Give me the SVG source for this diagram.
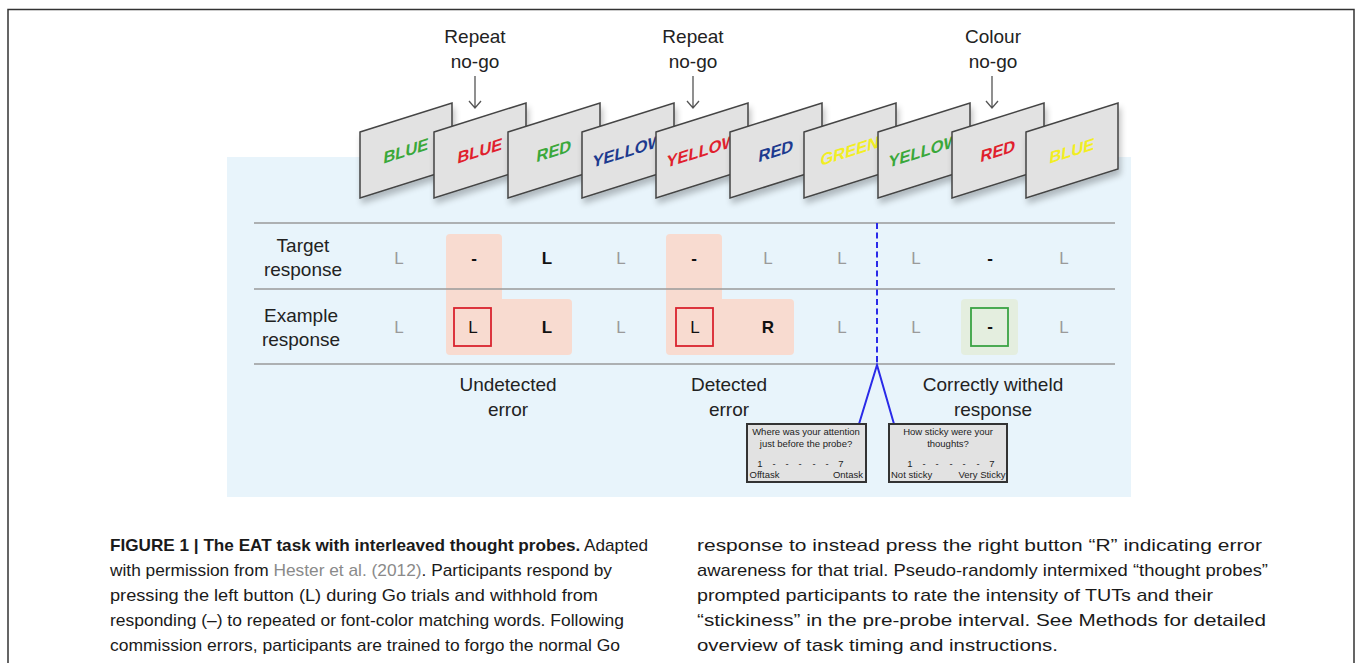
<svg xmlns="http://www.w3.org/2000/svg" width="1357" height="663" viewBox="0 0 1357 663">
<style>
  .frame{fill:none;stroke:#333;stroke-width:1.5}
  .panel{fill:#e8f4fb}
  .card{fill:#e2e2e2;stroke:#444;stroke-width:1.5;stroke-linejoin:miter}
  .word{font-family:"Liberation Sans",Arial,sans-serif;font-weight:bold;font-size:16.5px;text-anchor:middle}
  .lab{font-family:"Liberation Sans",Arial,sans-serif;font-size:19px;fill:#222;text-anchor:middle}
  .div{stroke:#9a9a9a;stroke-width:1.5}
  .cell{font-family:"Liberation Sans",Arial,sans-serif;font-size:17px;text-anchor:middle;fill:#9a9a9a}
  .blk{fill:#111}
  .bold{font-weight:bold}
  .pink{fill:#f8dbd0}
  .redbox{fill:none;stroke:#d9232e;stroke-width:1.8}
  .grnbox{fill:none;stroke:#3aa244;stroke-width:1.8}
  .arrow{stroke:#555;stroke-width:1.3;fill:none}
  .probe{fill:#e2e2e2;stroke:#333;stroke-width:2}
  .pt{font-family:"Liberation Sans",Arial,sans-serif;font-size:9.5px;fill:#222}
  .cap{font-family:"Liberation Sans",Arial,sans-serif;font-size:17px;fill:#1a1a1a}
  .blue{stroke:#2a2ae8;stroke-width:2;fill:none}
</style>
<defs>
  <filter id="shadow" x="-20%" y="-20%" width="150%" height="160%">
    <feGaussianBlur in="SourceAlpha" stdDeviation="3"/>
    <feOffset dx="2" dy="5" result="b"/>
    <feComponentTransfer><feFuncA type="linear" slope="0.25"/></feComponentTransfer>
    <feMerge><feMergeNode/><feMergeNode in="SourceGraphic"/></feMerge>
  </filter>
</defs>
<rect width="1357" height="663" fill="#fff"/>
<path class="frame" d="M8,663 V9.5 H1354 V663"/>
<rect class="panel" x="227" y="157" width="904" height="340"/>

<g id="labels-top">
  <text class="lab" x="475" y="43">Repeat</text>
  <text class="lab" x="475" y="68">no-go</text>
  <text class="lab" x="693" y="43">Repeat</text>
  <text class="lab" x="693" y="68">no-go</text>
  <text class="lab" x="993" y="43">Colour</text>
  <text class="lab" x="993" y="68">no-go</text>
</g>
<g id="arrows">
  <path class="arrow" d="M475,76 V108 M469,101 L475,108 L481,101"/>
  <path class="arrow" d="M693,76 V108 M687,101 L693,108 L699,101"/>
  <path class="arrow" d="M992,76 V108 M986,101 L992,108 L998,101"/>
</g>

<g id="cards">
  <g id="card1" transform="translate(360,0)"><polygon class="card" filter="url(#shadow)" points="0,132 92,103 92,169 0,198"/><text class="word" fill="#3aa83a" transform="translate(46,150.5) skewY(-17.5) skewX(-6)" y="6">BLUE</text></g>
  <g id="card2" transform="translate(434,0)"><polygon class="card" filter="url(#shadow)" points="0,132 92,103 92,169 0,198"/><text class="word" fill="#e01f2d" transform="translate(46,150.5) skewY(-17.5) skewX(-6)" y="6">BLUE</text></g>
  <g id="card3" transform="translate(508,0)"><polygon class="card" filter="url(#shadow)" points="0,132 92,103 92,169 0,198"/><text class="word" fill="#3aa83a" transform="translate(46,150.5) skewY(-17.5) skewX(-6)" y="6">RED</text></g>
  <g id="card4" transform="translate(582,0)"><polygon class="card" filter="url(#shadow)" points="0,132 92,103 92,169 0,198"/><text class="word" fill="#1d3a8f" transform="translate(46,150.5) skewY(-17.5) skewX(-6)" y="6">YELLOW</text></g>
  <g id="card5" transform="translate(656,0)"><polygon class="card" filter="url(#shadow)" points="0,132 92,103 92,169 0,198"/><text class="word" fill="#e01f2d" transform="translate(46,150.5) skewY(-17.5) skewX(-6)" y="6">YELLOW</text></g>
  <g id="card6" transform="translate(730,0)"><polygon class="card" filter="url(#shadow)" points="0,132 92,103 92,169 0,198"/><text class="word" fill="#1d3a8f" transform="translate(46,150.5) skewY(-17.5) skewX(-6)" y="6">RED</text></g>
  <g id="card7" transform="translate(804,0)"><polygon class="card" filter="url(#shadow)" points="0,132 92,103 92,169 0,198"/><text class="word" fill="#f2ee22" transform="translate(46,150.5) skewY(-17.5) skewX(-6)" y="6">GREEN</text></g>
  <g id="card8" transform="translate(878,0)"><polygon class="card" filter="url(#shadow)" points="0,132 92,103 92,169 0,198"/><text class="word" fill="#3aa83a" transform="translate(46,150.5) skewY(-17.5) skewX(-6)" y="6">YELLOW</text></g>
  <g id="card9" transform="translate(952,0)"><polygon class="card" filter="url(#shadow)" points="0,132 92,103 92,169 0,198"/><text class="word" fill="#e01f2d" transform="translate(46,150.5) skewY(-17.5) skewX(-6)" y="6">RED</text></g>
  <g id="card10" transform="translate(1026,0)"><polygon class="card" filter="url(#shadow)" points="0,132 92,103 92,169 0,198"/><text class="word" fill="#f2ee22" transform="translate(46,150.5) skewY(-17.5) skewX(-6)" y="6">BLUE</text></g>
</g>

<g id="highlights">
  <path class="pink" d="M450,234 H498 Q502,234 502,238 V299 H568 Q572,299 572,303 V351 Q572,355 568,355 H450 Q446,355 446,351 V238 Q446,234 450,234 Z"/>
  <path class="pink" d="M670,234 H718 Q722,234 722,238 V299 H790 Q794,299 794,303 V351 Q794,355 790,355 H670 Q666,355 666,351 V238 Q666,234 670,234 Z"/>
  <rect x="961" y="299" width="57" height="56" rx="4" fill="#e4eedf"/>
</g>

<g id="grid">
  <line class="div" x1="254" y1="223" x2="1115" y2="223"/>
  <line class="div" x1="254" y1="289" x2="1115" y2="289"/>
  <line class="div" x1="254" y1="364" x2="1115" y2="364"/>
</g>

<g id="row-labels">
  <text class="lab" x="303" y="252">Target</text>
  <text class="lab" x="303" y="276">response</text>
  <text class="lab" x="301" y="322">Example</text>
  <text class="lab" x="301" y="346">response</text>
</g>

<g id="target-row">
  <text class="cell" x="399" y="264">L</text>
  <text class="cell blk bold" x="474" y="264">-</text>
  <text class="cell blk" x="547" y="264" style="font-weight:600">L</text>
  <text class="cell" x="621" y="264">L</text>
  <text class="cell blk bold" x="694" y="264">-</text>
  <text class="cell" x="768" y="264">L</text>
  <text class="cell" x="842" y="264">L</text>
  <text class="cell" x="916" y="264">L</text>
  <text class="cell blk bold" x="990" y="264">-</text>
  <text class="cell" x="1064" y="264">L</text>
</g>

<g id="example-row">
  <text class="cell" x="399" y="333">L</text>
  <rect class="redbox" x="454" y="308" width="37" height="38"/>
  <text class="cell blk" x="473" y="333">L</text>
  <text class="cell blk" x="547" y="333" style="font-weight:600">L</text>
  <text class="cell" x="621" y="333">L</text>
  <rect class="redbox" x="676" y="308" width="37" height="38"/>
  <text class="cell blk" x="695" y="333">L</text>
  <text class="cell blk bold" x="768" y="333">R</text>
  <text class="cell" x="842" y="333">L</text>
  <text class="cell" x="916" y="333">L</text>
  <rect class="grnbox" x="971" y="308" width="37" height="38"/>
  <text class="cell blk bold" x="990" y="332">-</text>
  <text class="cell" x="1064" y="333">L</text>
</g>

<g id="outcome-labels">
  <text class="lab" x="508" y="391">Undetected</text>
  <text class="lab" x="508" y="416">error</text>
  <text class="lab" x="729" y="391">Detected</text>
  <text class="lab" x="729" y="416">error</text>
  <text class="lab" x="993" y="391">Correctly witheld</text>
  <text class="lab" x="993" y="416">response</text>
</g>

<g id="connectors">
  <line class="blue" x1="877" y1="223" x2="877" y2="365" stroke-dasharray="6,3.5"/>
  <polyline class="blue" points="859,424 877,365 894,424"/>
</g>

<g id="probe1">
  <rect class="probe" x="747" y="424" width="119" height="58"/>
  <text class="pt" x="806" y="435" text-anchor="middle">Where was your attention</text>
  <text class="pt" x="806" y="447" text-anchor="middle">just before the probe?</text>
  <text class="pt" x="760" y="467" text-anchor="middle">1</text>
  <text class="pt" x="774" y="467" text-anchor="middle">-</text>
  <text class="pt" x="787" y="467" text-anchor="middle">-</text>
  <text class="pt" x="800" y="467" text-anchor="middle">-</text>
  <text class="pt" x="814" y="467" text-anchor="middle">-</text>
  <text class="pt" x="827" y="467" text-anchor="middle">-</text>
  <text class="pt" x="841" y="467" text-anchor="middle">7</text>
  <text class="pt" x="749.5" y="478">Offtask</text>
  <text class="pt" x="863" y="478" text-anchor="end">Ontask</text>
</g>
<g id="probe2">
  <rect class="probe" x="889" y="424" width="118" height="58"/>
  <text class="pt" x="948" y="435" text-anchor="middle">How sticky were your</text>
  <text class="pt" x="948" y="447" text-anchor="middle">thoughts?</text>
  <text class="pt" x="910" y="467" text-anchor="middle">1</text>
  <text class="pt" x="924" y="467" text-anchor="middle">-</text>
  <text class="pt" x="937" y="467" text-anchor="middle">-</text>
  <text class="pt" x="951" y="467" text-anchor="middle">-</text>
  <text class="pt" x="964" y="467" text-anchor="middle">-</text>
  <text class="pt" x="978" y="467" text-anchor="middle">-</text>
  <text class="pt" x="992" y="467" text-anchor="middle">7</text>
  <text class="pt" x="891" y="478">Not sticky</text>
  <text class="pt" x="1005.5" y="478" text-anchor="end">Very Sticky</text>
</g>

<g id="caption">
  <text class="cap" x="110" y="551" textLength="538" lengthAdjust="spacingAndGlyphs"><tspan font-weight="bold">FIGURE 1 | The EAT task with interleaved thought probes.</tspan> Adapted</text>
  <text class="cap" x="110" y="576" textLength="502" lengthAdjust="spacingAndGlyphs">with permission from <tspan fill="#8a8a8a">Hester et al. (2012)</tspan>. Participants respond by</text>
  <text class="cap" x="110" y="601" textLength="488" lengthAdjust="spacingAndGlyphs">pressing the left button (L) during Go trials and withhold from</text>
  <text class="cap" x="110" y="626" textLength="514" lengthAdjust="spacingAndGlyphs">responding (–) to repeated or font-color matching words. Following</text>
  <text class="cap" x="110" y="651" textLength="510" lengthAdjust="spacingAndGlyphs">commission errors, participants are trained to forgo the normal Go</text>
  <text class="cap" x="697" y="551" textLength="565" lengthAdjust="spacingAndGlyphs">response to instead press the right button “R” indicating error</text>
  <text class="cap" x="697" y="576" textLength="571" lengthAdjust="spacingAndGlyphs">awareness for that trial. Pseudo-randomly intermixed “thought probes”</text>
  <text class="cap" x="697" y="601" textLength="516" lengthAdjust="spacingAndGlyphs">prompted participants to rate the intensity of TUTs and their</text>
  <text class="cap" x="697" y="626" textLength="569" lengthAdjust="spacingAndGlyphs">“stickiness” in the pre-probe interval. See Methods for detailed</text>
  <text class="cap" x="697" y="651" textLength="361" lengthAdjust="spacingAndGlyphs">overview of task timing and instructions.</text>
</g>
</svg>
